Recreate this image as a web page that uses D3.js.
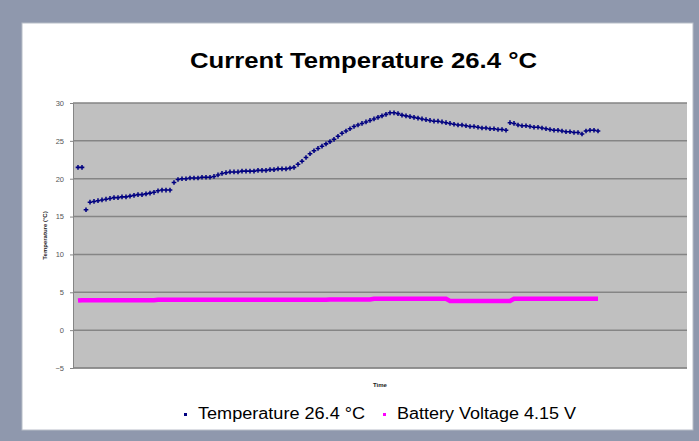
<!DOCTYPE html>
<html>
<head>
<meta charset="utf-8">
<script src="https://cdn.jsdelivr.net/npm/d3@7"></script>
<style>
    body { margin: 0; background: #8f98ad; }
    svg { display: block; }
</style>
</head>
<body>
<svg id="chart" width="699" height="441"></svg>
<script>
// temperature readings, one per sample (°C)
var temperature = [
    21.5, 21.5, 15.9, 16.9, 17.0, 17.1, 17.2, 17.3, 17.4, 17.5,
    17.5, 17.6, 17.6, 17.7, 17.8, 17.9, 17.9, 18.0, 18.1, 18.2,
    18.4, 18.5, 18.5, 18.5, 19.5, 19.9, 20.0, 20.0, 20.1, 20.1,
    20.1, 20.2, 20.2, 20.2, 20.3, 20.5, 20.7, 20.8, 20.9, 20.9,
    20.9, 21.0, 21.0, 21.0, 21.0, 21.1, 21.1, 21.1, 21.2, 21.2,
    21.3, 21.3, 21.3, 21.4, 21.5, 21.9, 22.3, 22.8, 23.3, 23.7,
    24.0, 24.3, 24.6, 24.9, 25.2, 25.6, 26.0, 26.3, 26.6, 26.9,
    27.1, 27.3, 27.5, 27.7, 27.9, 28.1, 28.3, 28.5, 28.7, 28.7,
    28.6, 28.4, 28.3, 28.2, 28.1, 28.0, 27.9, 27.8, 27.7, 27.6,
    27.6, 27.5, 27.4, 27.3, 27.2, 27.1, 27.1, 27.0, 26.9, 26.9,
    26.8, 26.7, 26.7, 26.6, 26.6, 26.5, 26.5, 26.4, 27.4, 27.3,
    27.1, 27.0, 27.0, 26.9, 26.8, 26.8, 26.7, 26.6, 26.5, 26.4,
    26.4, 26.3, 26.2, 26.2, 26.1, 26.1, 25.9, 26.3, 26.4, 26.4,
    26.3
];

// battery voltage for the same samples (V)
var battery = [
    3.90, 3.95, 3.95, 3.95, 3.95, 3.95, 3.95, 3.95, 3.95, 3.95,
    3.95, 3.95, 3.95, 3.95, 3.95, 3.95, 3.95, 3.95, 3.95, 3.95,
    4.00, 4.00, 4.00, 4.00, 4.00, 4.00, 4.00, 4.00, 4.00, 4.00,
    4.00, 4.00, 4.00, 4.00, 4.00, 4.00, 4.00, 4.00, 4.00, 4.00,
    4.00, 4.00, 4.00, 4.00, 4.00, 4.00, 4.00, 4.00, 4.00, 4.00,
    4.00, 4.00, 4.00, 4.00, 4.00, 4.00, 4.00, 4.00, 4.00, 4.00,
    4.00, 4.00, 4.00, 4.05, 4.05, 4.05, 4.05, 4.05, 4.05, 4.05,
    4.05, 4.05, 4.05, 4.05, 4.15, 4.15, 4.15, 4.15, 4.15, 4.15,
    4.15, 4.15, 4.15, 4.15, 4.15, 4.15, 4.15, 4.15, 4.15, 4.15,
    4.15, 4.15, 4.15, 3.85, 3.85, 3.85, 3.85, 3.85, 3.85, 3.85,
    3.85, 3.85, 3.85, 3.85, 3.85, 3.85, 3.85, 3.85, 3.85, 4.15,
    4.15, 4.15, 4.15, 4.15, 4.15, 4.15, 4.15, 4.15, 4.15, 4.15,
    4.15, 4.15, 4.15, 4.15, 4.15, 4.15, 4.15, 4.15, 4.15, 4.15,
    4.15
];

var yTicks = [-5, 0, 5, 10, 15, 20, 25, 30];
var titleText = "Current Temperature 26.4 °C";
var seriesNames = ["Temperature 26.4 °C", "Battery Voltage 4.15 V"];
var seriesColors = ["#000080", "#ff00ff"];

var font = "Liberation Sans, Arial, sans-serif";
var svg = d3.select("#chart");

// white chart panel
svg.append("rect")
    .attr("x", 22).attr("y", 23)
    .attr("width", 671).attr("height", 407)
    .attr("fill", "#ffffff")
    .attr("stroke", "#b8bdc8");

var plot = { left: 73, right: 687, top: 103, bottom: 368 };

var x = d3.scaleLinear()
    .domain([-1.25, 152.25])
    .range([plot.left, plot.right]);

var y = d3.scaleLinear()
    .domain([-5, 30])
    .range([plot.bottom, plot.top]);

svg.append("rect")
    .attr("x", plot.left).attr("y", plot.top)
    .attr("width", plot.right - plot.left)
    .attr("height", plot.bottom - plot.top)
    .attr("fill", "#c0c0c0");

// gridlines
svg.append("g")
    .selectAll("line")
    .data(yTicks)
    .enter().append("line")
    .attr("x1", plot.left).attr("x2", plot.right)
    .attr("y1", function (d) { return y(d); })
    .attr("y2", function (d) { return y(d); })
    .attr("stroke", "#858585")
    .attr("stroke-width", 1.5);

// y axis
var yAxis = svg.append("g")
    .attr("transform", "translate(" + plot.left + ",0)")
    .call(d3.axisLeft(y).tickValues(yTicks).tickSize(3).tickPadding(6));
yAxis.select(".domain").attr("stroke", "#858585");
yAxis.selectAll(".tick line").attr("stroke", "#858585");
yAxis.selectAll("text")
    .attr("font-family", font)
    .attr("font-size", "7.5px")
    .attr("fill", "#555");

// x axis line
svg.append("line")
    .attr("x1", plot.left).attr("x2", plot.right)
    .attr("y1", plot.bottom).attr("y2", plot.bottom)
    .attr("stroke", "#858585");

// axis titles
svg.append("text")
    .attr("transform", "translate(47," + ((plot.top + plot.bottom) / 2) + ") rotate(-90)")
    .attr("text-anchor", "middle")
    .attr("font-family", font)
    .attr("font-size", "6px")
    .attr("font-weight", "bold")
    .attr("fill", "#222")
    .text("Temperature (°C)");

svg.append("text")
    .attr("x", (plot.left + plot.right) / 2)
    .attr("y", 387)
    .attr("text-anchor", "middle")
    .attr("font-family", font)
    .attr("font-size", "6px")
    .attr("font-weight", "bold")
    .attr("fill", "#222")
    .text("Time");

// battery voltage line
var line = d3.line()
    .x(function (d, i) { return x(i); })
    .y(function (d) { return y(d); });

svg.append("path")
    .datum(battery)
    .attr("d", line)
    .attr("fill", "none")
    .attr("stroke", seriesColors[1])
    .attr("stroke-width", 4.5);

// temperature markers
var cross = d3.symbol().type(d3.symbolCross).size(12);
svg.append("g")
    .selectAll("path")
    .data(temperature)
    .enter().append("path")
    .attr("transform", function (d, i) {
        return "translate(" + x(i) + "," + y(d) + ")";
    })
    .attr("d", cross)
    .attr("fill", seriesColors[0]);

// title (the source image is a bit stretched sideways)
svg.append("text")
    .attr("x", 190)
    .attr("y", 68)
    .attr("font-family", font)
    .attr("font-size", "22px")
    .attr("font-weight", "bold")
    .attr("fill", "#000")
    .attr("textLength", 347)
    .attr("lengthAdjust", "spacingAndGlyphs")
    .text(titleText);

// legend
var legendX = [184, 383];
var legendLen = [167, 179];
var legend = svg.append("g")
    .selectAll("g")
    .data(seriesNames)
    .enter().append("g")
    .attr("transform", function (d, i) {
        return "translate(" + legendX[i] + ",419)";
    });

legend.append("rect")
    .attr("x", 0).attr("y", -6)
    .attr("width", 3).attr("height", 3)
    .attr("fill", function (d, i) { return seriesColors[i]; });

legend.append("text")
    .attr("x", 14)
    .attr("y", 0)
    .attr("font-family", font)
    .attr("font-size", "16px")
    .attr("fill", "#000")
    .attr("textLength", function (d, i) { return legendLen[i]; })
    .attr("lengthAdjust", "spacingAndGlyphs")
    .text(function (d) { return d; });
</script>
</body>
</html>
